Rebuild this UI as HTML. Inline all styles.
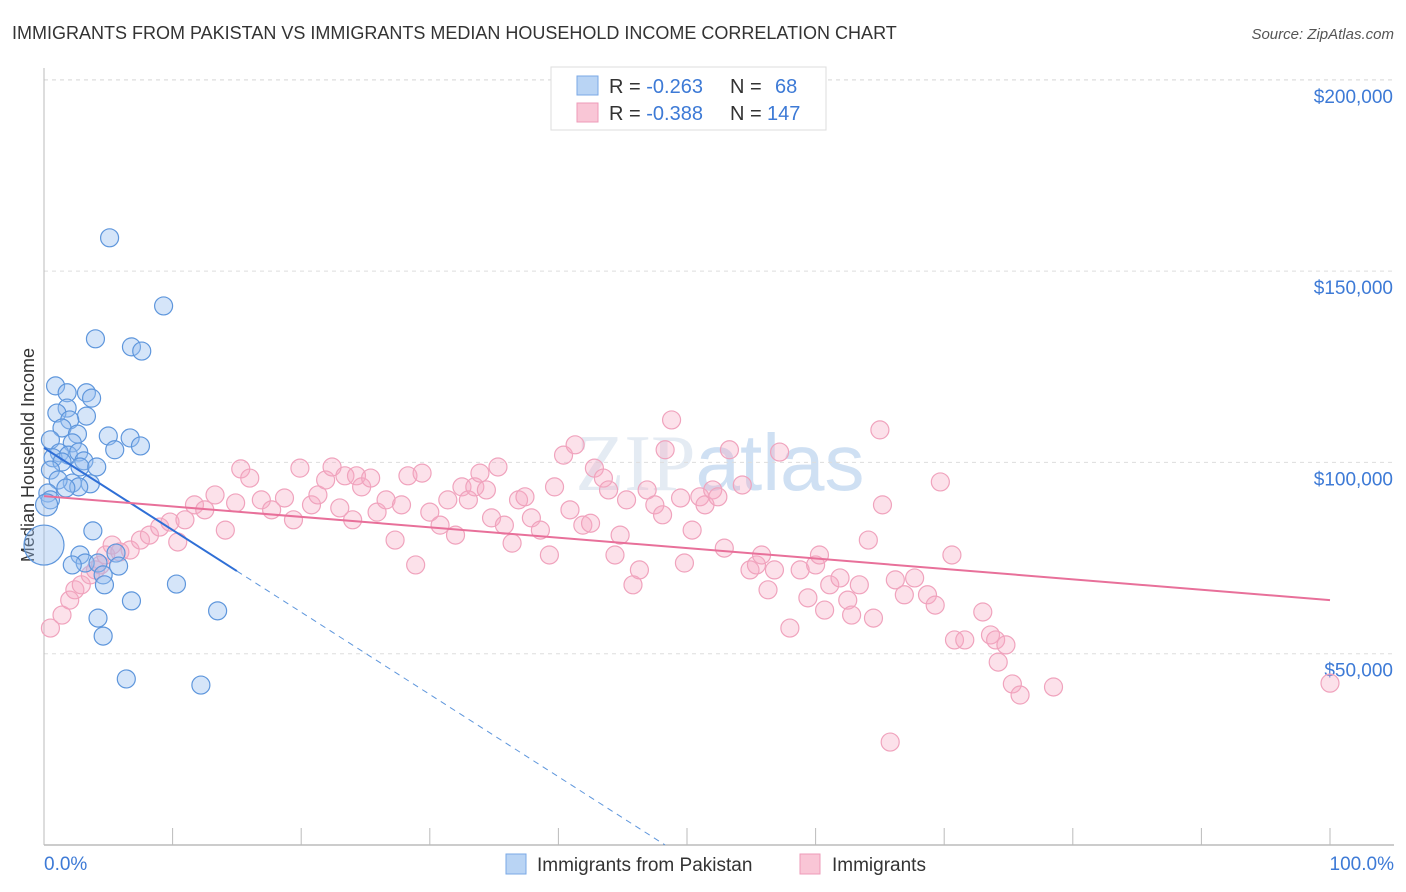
<!DOCTYPE html>
<html><head><meta charset="utf-8"><style>
body{margin:0;background:#fff;font-family:"Liberation Sans",sans-serif;}
svg{display:block}
</style></head><body>
<svg id="chart" width="1406" height="892">
<text x="12" y="39" font-size="18" fill="#333">IMMIGRANTS FROM PAKISTAN VS IMMIGRANTS MEDIAN HOUSEHOLD INCOME CORRELATION CHART</text>
<text x="1394" y="39" font-size="15" fill="#555" font-style="italic" text-anchor="end">Source: ZipAtlas.com</text>
<text x="720" y="490" font-size="80" fill="#e4ebf3" text-anchor="middle" font-family="Liberation Serif">ZIP<tspan font-family="Liberation Sans" fill="#cfe0f3">atlas</tspan></text>
<text transform="translate(34,455) rotate(-90)" font-size="18" fill="#333" text-anchor="middle">Median Household Income</text>
<g id="grid"></g><g id="marks"></g>
<g>
<rect x="551" y="67" width="275" height="63" fill="#fff" stroke="#ddd"/>
<rect x="577" y="76" width="21" height="19" fill="#b9d4f4" stroke="#7aa8e6"/>
<rect x="577" y="103" width="21" height="19" fill="#f9c6d6" stroke="#ee9bb8"/>
<text x="609" y="93" font-size="20" fill="#333">R = <tspan fill="#3d7ad6">-0.263</tspan><tspan x="730">N = </tspan><tspan x="775" fill="#3d7ad6">68</tspan></text>
<text x="609" y="120" font-size="20" fill="#333">R = <tspan fill="#3d7ad6">-0.388</tspan><tspan x="730">N = </tspan><tspan x="767" fill="#3d7ad6">147</tspan></text>
</g>
<g>
<rect x="506" y="854" width="20" height="20" fill="#b9d4f4" stroke="#7aa8e6"/>
<text x="537" y="871" font-size="19" fill="#333">Immigrants from Pakistan</text>
<rect x="800" y="854" width="20" height="20" fill="#f9c6d6" stroke="#ee9bb8"/>
<text x="832" y="871" font-size="19" fill="#333">Immigrants</text>
</g>
</svg>
<script>
const yTicks=[50000,100000,150000,200000];
const yTickLabels=["$50,000","$100,000","$150,000","$200,000"];
const xTickLabels=["0.0%","100.0%"];
const blueX=[5.1,9.3,4.0,6.8,7.6,0.9,1.8,3.3,3.7,1.8,1.0,3.3,2.0,1.4,2.6,5.0,6.7,7.5,5.5,0.5,2.2,1.2,0.7,1.9,2.7,3.1,1.4,2.8,4.1,0.5,2.2,3.6,1.1,2.7,1.7,0.3,0.5,0.2,3.8,0,2.8,5.6,3.2,2.2,4.2,5.8,4.6,4.7,10.3,6.8,4.2,13.5,4.6,6.4,12.2];
const blueY=[158.7,140.9,132.3,130.2,129.1,120,118.2,118.2,116.8,114.2,112.9,112.1,111.1,109,107.4,106.9,106.4,104.3,103.3,105.9,105.1,102.5,101.2,101.9,102.7,100.4,100.1,98.8,98.8,98,94.6,94.4,95.4,93.6,93.3,92,90.2,88.9,82.1,78.4,75.8,76.3,73.7,73.2,73.7,72.9,70.6,68,68.2,63.8,59.3,61.2,54.6,43.4,41.8];
const pinkX=[0.5,1.4,2.0,2.4,2.9,3.6,4.0,4.4,4.8,5.3,5.9,6.7,7.5,8.2,9.0,9.8,10.4,10.96,11.7,12.5,13.3,14.1,14.9,15.3,16.0,16.9,17.7,18.7,19.4,19.9,20.8,21.3,21.9,22.4,23.0,23.4,24.0,24.3,24.7,25.4,25.9,26.6,27.3,27.8,28.3,28.9,29.4,30.0,30.8,31.4,32.0,32.5,33.0,33.5,33.9,34.4,34.8,35.3,35.8,36.4,36.9,37.4,37.9,38.6,39.3,39.7,40.4,40.9,41.3,41.9,42.5,42.8,43.5,43.9,44.4,44.8,45.3,45.8,46.3,46.9,47.5,48.1,48.3,48.8,49.5,49.8,50.4,51.0,51.4,52.0,52.4,52.9,53.3,54.3,54.9,55.4,55.8,56.3,56.8,57.2,58.0,58.8,59.4,60.0,60.3,60.7,61.1,61.9,62.5,62.8,63.4,64.1,64.5,65.0,65.2,65.8,66.2,66.9,67.7,68.7,69.3,69.7,70.6,70.8,71.6,73.0,73.6,74.0,74.2,74.8,75.3,75.9,78.5,100];
const pinkY=[56.7,60.1,64,66.7,68,70.6,71.9,73.2,75.8,78.4,76.6,77.1,79.7,81,83.1,84.4,79.2,85,88.9,87.6,91.5,82.3,89.4,98.3,95.9,90.2,87.6,90.7,85,98.5,88.9,91.5,95.4,98.8,88.1,96.5,85,96.5,93.6,95.9,87,90.2,79.7,88.9,96.5,73.2,97.2,87,83.6,90.2,81,93.6,90.2,93.6,97.2,92.8,85.5,98.8,83.6,78.9,90.2,91,85.5,82.3,75.8,93.6,101.9,87.6,104.6,83.6,84.1,98.5,95.9,92.8,75.8,81,90.2,68,71.9,92.8,88.9,86.3,103.3,111.1,90.7,73.7,82.3,91,88.9,92.8,91,77.6,103.3,94.1,71.9,73.2,75.8,66.7,71.9,102.7,56.7,71.9,64.6,73.2,75.8,61.4,68,69.8,64,60.1,68,79.7,59.3,108.5,88.9,26.9,69.3,65.4,69.8,65.4,62.7,94.9,75.8,53.6,53.6,60.9,54.9,53.6,47.8,52.3,42.1,39.2,41.3,42.3];
const blueTrend=[103.8,71.6,15,48.3];
const pinkTrend=[91.2,64.0];
const X=p=>44+p*12.86, Y=k=>845-k*1000/50000*191.3;
const NS="http://www.w3.org/2000/svg";
function mk(t,a,p){const e=document.createElementNS(NS,t);for(const k in a)e.setAttribute(k,a[k]);p.appendChild(e);return e;}
const g=document.getElementById('grid'), m=document.getElementById('marks');
const gl=mk('line',{x1:44,x2:1394,y1:80,y2:80,stroke:'#ddd','stroke-dasharray':'4,4'},g);


yTicks.forEach((v,i)=>{const y=Y(v/1000);
const l=mk('line',{x1:44,x2:1394,y1:y,y2:y,stroke:'#ddd','stroke-dasharray':'4,4'},g);


const t=mk('text',{x:1393,y:y+23,'font-size':19,fill:'#3d7ad6','text-anchor':'end'},g);t.textContent=yTickLabels[i];

});
const ax=mk('line',{x1:44,x2:1394,y1:845,y2:845,stroke:'#999'},g);


const ay=mk('line',{x1:44,x2:44,y1:68,y2:845,stroke:'#bbb'},g);


for(let i=0;i<=10;i++){const x=X(i*10);const t=mk('line',{x1:x,x2:x,y1:828,y2:845,stroke:'#bbb'},g);

}
[[0,'start',44],[1,'end',1394]].forEach(([i,a,x])=>{const t=mk('text',{x:x,y:870,'font-size':19,fill:'#3d7ad6','text-anchor':a},g);t.textContent=xTickLabels[i];

});
pinkX.forEach((x,i)=>{const c=mk('circle',{cx:X(x),cy:Y(pinkY[i]),r:9,fill:'rgba(247,170,196,0.35)',stroke:'#f0a3bd','stroke-width':1.2},m);

});
blueX.forEach((x,i)=>{const r=(i==39)?20:(i==37?11:9);const c=mk('circle',{cx:X(x),cy:Y(blueY[i]),r:r,fill:'rgba(150,190,240,0.4)',stroke:'#5e96dc','stroke-width':1.2},m);

});
const bl=mk('line',{x1:X(0),y1:Y(blueTrend[0]),x2:X(blueTrend[2]),y2:Y(blueTrend[1]),stroke:'#2f6fd6','stroke-width':2},m);


const bd=mk('line',{x1:X(blueTrend[2]),y1:Y(blueTrend[1]),x2:X(blueTrend[3]),y2:Y(0),stroke:'#5e96dc','stroke-width':1,'stroke-dasharray':'6,5'},m);


const pl=mk('line',{x1:X(0),y1:Y(pinkTrend[0]),x2:X(100),y2:Y(pinkTrend[1]),stroke:'#e8709a','stroke-width':2},m);


</script>
</body></html>
